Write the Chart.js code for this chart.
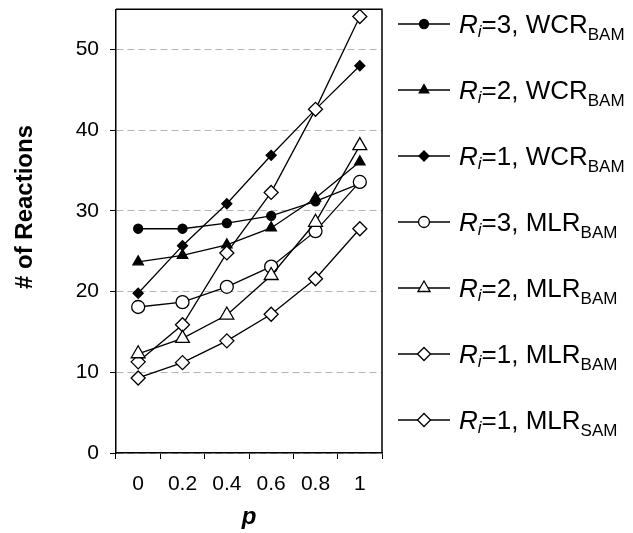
<!DOCTYPE html>
<html><head><meta charset="utf-8">
<script src="https://cdn.jsdelivr.net/npm/chart.js@4/dist/chart.umd.min.js"></script>
<style>html,body{margin:0;padding:0;background:#fff}#wrap{width:633px;height:533px;position:relative}canvas{display:block}</style>
</head><body><div id="wrap"><canvas id="c" width="633" height="533"></canvas></div>
<script>
// ---- data ----
const categories = ['0', '0.2', '0.4', '0.6', '0.8', '1'];
const yTicks = [0, 10, 20, 30, 40, 50];
const wcr3 = [27.8, 27.8, 28.5, 29.4, 31.2, 33.4];
const wcr2 = [23.7, 24.5, 25.8, 27.9, 31.6, 36.1];
const wcr1 = [19.8, 25.7, 30.9, 36.9, 42.6, 48.0];
const mlr3 = [18.1, 18.7, 20.6, 23.1, 27.5, 33.6];
const mlr2 = [12.3, 14.2, 17.1, 22.0, 28.6, 38.1];
const mlr1 = [11.3, 15.9, 24.8, 32.3, 42.6, 54.1];
const mlr1sam = [9.3, 11.2, 13.9, 17.2, 21.6, 27.8];
const legendRi = ['3', '2', '1', '3', '2', '1', '1'];
const legendMethod = ['WCR', 'WCR', 'WCR', 'MLR', 'MLR', 'MLR', 'MLR'];
const legendSub = ['BAM', 'BAM', 'BAM', 'BAM', 'BAM', 'BAM', 'SAM'];
const yTitle = '# of Reactions';
const xTitle = 'p';

// ---- styles ----
const FONT = "'Liberation Sans', Arial, Helvetica, sans-serif";
const seriesData = [wcr3, wcr2, wcr1, mlr3, mlr2, mlr1, mlr1sam];
const markers = [
  {pointStyle: 'circle', radius: 4.5, fill: '#000', lr: 4.5},
  {pointStyle: 'triangle', radius: 6, fill: '#000', lr: 5.5},
  {pointStyle: 'rectRot', radius: 5, fill: '#000', lr: 5},
  {pointStyle: 'circle', radius: 6.5, fill: '#fff', lr: 5.5},
  {pointStyle: 'triangle', radius: 8, fill: '#fff', lr: 7},
  {pointStyle: 'rectRot', radius: 7, fill: '#fff', lr: 6.5},
  {pointStyle: 'rectRot', radius: 7, fill: '#fff', lr: 6.5}
];
const drawOrder = [6, 5, 4, 3, 1, 2, 7];
const legendRows = [24, 90, 156, 222, 288, 354, 420];

const datasets = seriesData.map((d, i) => ({
  label: 'R' + legendRi[i] + ' ' + legendMethod[i] + legendSub[i],
  data: d,
  borderColor: '#000',
  borderWidth: 1.3,
  backgroundColor: markers[i].fill,
  pointStyle: markers[i].pointStyle,
  pointRadius: markers[i].radius,
  pointBackgroundColor: markers[i].fill,
  pointBorderColor: '#000',
  pointBorderWidth: 1.3,
  fill: false,
  tension: 0,
  order: drawOrder[i]
}));

function drawMarker(ctx, st, x, y) {
  if (Chart.helpers && Chart.helpers.drawPoint) {
    Chart.helpers.drawPoint(ctx, {pointStyle: st.pointStyle, radius: st.lr, rotation: 0, borderWidth: 1.3}, x, y);
    return;
  }
  const r = st.lr;
  ctx.beginPath();
  if (st.pointStyle === 'circle') ctx.arc(x, y, r, 0, Math.PI * 2);
  else if (st.pointStyle === 'triangle') {
    ctx.moveTo(x, y - r); ctx.lineTo(x + r * 0.866, y + r / 2); ctx.lineTo(x - r * 0.866, y + r / 2); ctx.closePath();
  } else { ctx.moveTo(x - r, y); ctx.lineTo(x, y - r); ctx.lineTo(x + r, y); ctx.lineTo(x, y + r); ctx.closePath(); }
  ctx.fill(); ctx.stroke();
}

const extras = {
  id: 'extras',
  afterDraw(chart) {
    const ctx = chart.ctx;
    const a = chart.chartArea;
    ctx.save();
    // top & right frame
    ctx.strokeStyle = '#000'; ctx.lineWidth = 1.5;
    ctx.beginPath();
    ctx.moveTo(a.left, a.top); ctx.lineTo(a.right, a.top); ctx.lineTo(a.right, a.bottom);
    ctx.stroke();
    // y title
    ctx.save();
    ctx.translate(25, 207);
    ctx.rotate(-Math.PI / 2);
    ctx.font = 'bold 24px ' + FONT;
    ctx.fillStyle = '#000'; ctx.textAlign = 'center'; ctx.textBaseline = 'middle';
    ctx.fillText(yTitle, 0, 0);
    ctx.restore();
    // legend
    legendRows.forEach((yy, i) => {
      ctx.strokeStyle = '#000'; ctx.lineWidth = 1.3;
      ctx.beginPath(); ctx.moveTo(398, yy); ctx.lineTo(450, yy); ctx.stroke();
      ctx.fillStyle = markers[i].fill;
      drawMarker(ctx, markers[i], 424, yy);
      let x = 459; const base = yy + 9;
      ctx.fillStyle = '#000'; ctx.textBaseline = 'alphabetic'; ctx.textAlign = 'left';
      ctx.font = 'italic 26px ' + FONT; ctx.fillText('R', x, base); x += ctx.measureText('R').width;
      ctx.font = 'italic 17px ' + FONT; ctx.fillText('i', x, base + 4); x += ctx.measureText('i').width;
      const t = '=' + legendRi[i] + ', ' + legendMethod[i];
      ctx.font = '26px ' + FONT; ctx.fillText(t, x, base); x += ctx.measureText(t).width;
      ctx.font = '17px ' + FONT; ctx.fillText(legendSub[i], x, base + 7);
    });
    ctx.restore();
  }
};

new Chart(document.getElementById('c'), {
  type: 'line',
  data: {labels: categories, datasets},
  plugins: [extras],
  options: {
    responsive: false,
    animation: false,
    layout: {padding: {top: 9, right: 251, left: 0, bottom: 0}},
    plugins: {legend: {display: false}, tooltip: {enabled: false}},
    scales: {
      x: {
        type: 'category', offset: true,
        grid: {display: true, drawOnChartArea: false, offset: true, tickLength: 6, color: '#000', lineWidth: 1},
        border: {display: true, color: '#000', width: 1.5},
        ticks: {font: {family: FONT, size: 21}, color: '#000', padding: 13, maxRotation: 0, autoSkip: false},
        title: {display: true, text: xTitle, font: {family: FONT, size: 24, weight: 'bold', style: 'italic'}, color: '#000', padding: {top: 0, bottom: 1}},
        afterFit(s) { s.height = 80; s.paddingLeft = 0; s.paddingRight = 0; }
      },
      y: {
        min: 0, max: 55,
        afterBuildTicks(s) { s.ticks = yTicks.map(v => ({value: v})); },
        grid: {color: '#b5b5b5', lineWidth: 1, tickLength: 6, tickColor: '#000', drawTicks: true},
        border: {display: true, color: '#000', width: 1.5, dash: [7, 4]},
        ticks: {font: {family: FONT, size: 21}, color: '#000', padding: 11},
        afterFit(s) { s.width = 116; s.paddingTop = 0; s.paddingBottom = 0; }
      }
    }
  }
});
</script>
</body></html>
